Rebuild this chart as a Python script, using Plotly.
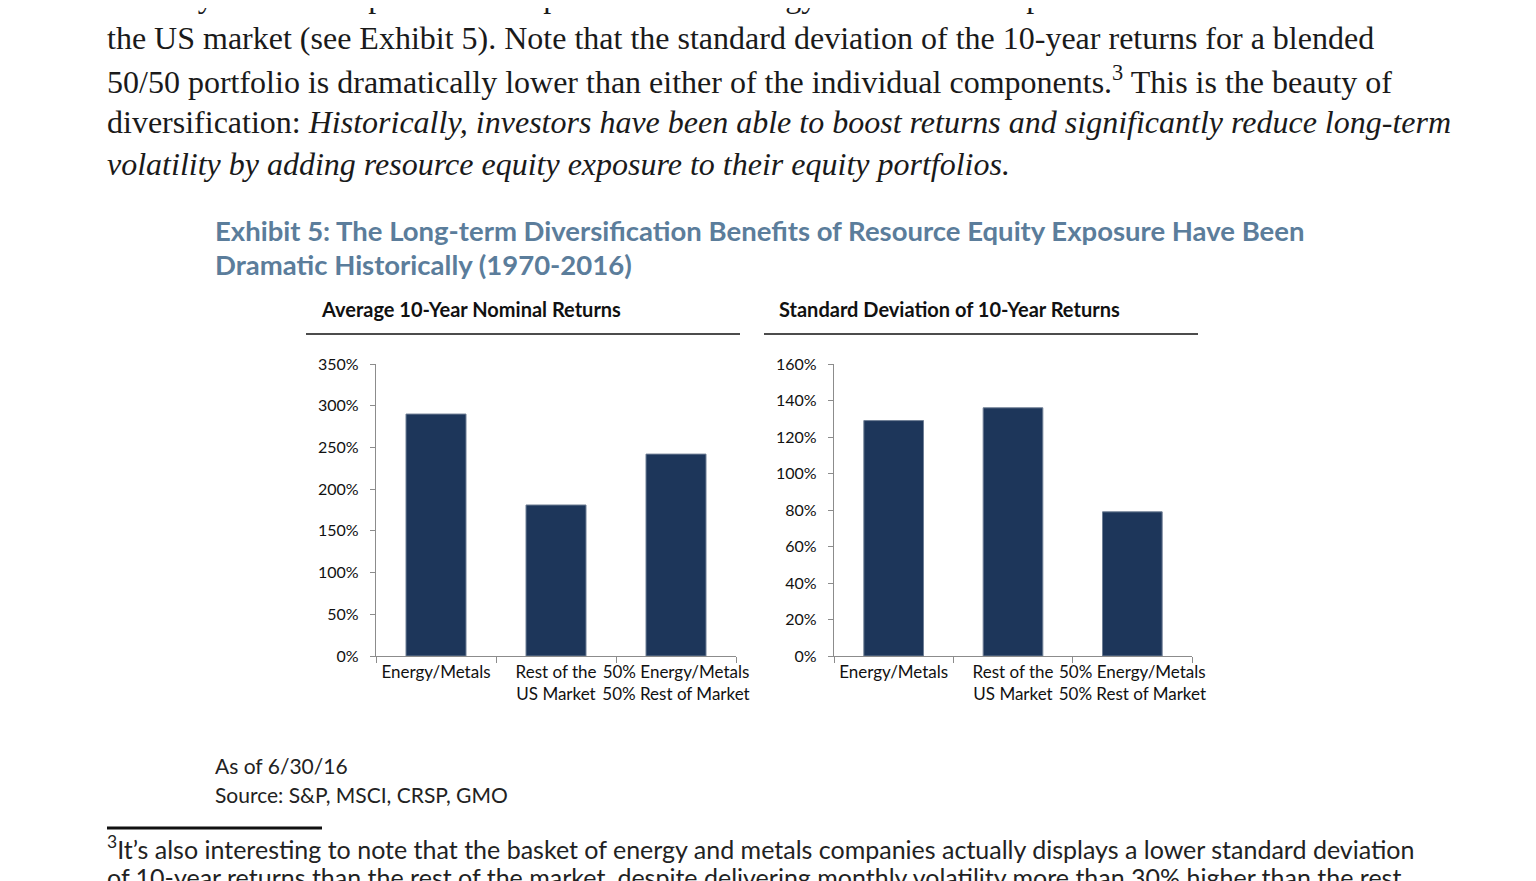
"""Exhibit 5 – resource equity diversification, page recreation"""
import plotly.graph_objects as go

# page body keeps its default 8px margin; figure runs to the window's right/bottom edge
OFF = 8
W, H = 1536 - OFF, 881 - OFF

categories = ['Energy/Metals', 'Rest of the<br>US Market', '50% Energy/Metals<br>50% Rest of Market']
avg_returns = [290, 181, 242]
std_dev = [129, 136, 79]

body_lines = [
    'monthly rebalanced portfolio comprised of 50% energy and metals companies and 50% the rest of',
    'the US market (see Exhibit 5). Note that the standard deviation of the 10-year returns for a blended',
    '50/50 portfolio is dramatically lower than either of the individual components.<sup>3</sup> This is the beauty of',
    'diversification: <i>Historically, investors have been able to boost returns and significantly reduce long-term</i>',
    '<i>volatility by adding resource equity exposure to their equity portfolios.</i>',
]
title_lines = [
    'Exhibit 5: The Long-term Diversification Benefits of Resource Equity Exposure Have Been',
    'Dramatic Historically (1970-2016)',
]
footnote_lines = [
    '<sup>3</sup>It\u2019s also interesting to note that the basket of energy and metals companies actually displays a lower standard deviation',
    'of 10-year returns than the rest of the market, despite delivering monthly volatility more than 30% higher than the rest',
]

BAR = '#1D365A'
AXIS = '#8c8c8c'
SANS = 'Lato, Open Sans, sans-serif'
SERIF = 'Liberation Serif, DejaVu Serif, serif'


def px_x(x):
    return (x - OFF) / W


def px_y(y):
    return 1 - (y - OFF) / H


fig = go.Figure()
fig.add_trace(go.Bar(x=categories, y=avg_returns, width=0.5, marker_color=BAR,
                     marker_line=dict(color='#6f7f95', width=1), xaxis='x', yaxis='y'))
fig.add_trace(go.Bar(x=categories, y=std_dev, width=0.5, marker_color=BAR,
                     marker_line=dict(color='#6f7f95', width=1), xaxis='x2', yaxis='y2'))

xcommon = dict(type='category', showline=True, linecolor=AXIS, linewidth=1.3,
               ticks='outside', tickson='boundaries', ticklen=6, tickcolor=AXIS,
               showgrid=False, tickangle=0, automargin=False,
               tickfont=dict(family=SANS, size=17, color='#111'),
               fixedrange=True)
ycommon = dict(showline=True, linecolor=AXIS, linewidth=1.3, ticks='outside',
               ticklen=5, tickcolor=AXIS, showgrid=False, zeroline=False,
               ticksuffix='%', tickfont=dict(family=SANS, size=16, color='#111'),
               ticklabelstandoff=8, automargin=False,
               domain=[px_y(656), px_y(364)])

fig.update_layout(
    width=W, height=H,
    margin=dict(t=0, b=0, l=0, r=0, pad=0),
    paper_bgcolor='white', plot_bgcolor='white',
    showlegend=False,
    xaxis=dict(xcommon, domain=[px_x(376), px_x(736)], anchor='y'),
    yaxis=dict(ycommon, range=[0, 350], dtick=50, anchor='x'),
    xaxis2=dict(xcommon, domain=[px_x(834), px_x(1192)], anchor='y2'),
    yaxis2=dict(ycommon, range=[0, 160], dtick=20, anchor='x2'),
)

# body text above the exhibit
for i, line in enumerate(body_lines):
    fig.add_annotation(text=line, xref='paper', yref='paper', x=px_x(105), y=px_y(-4 + 42 * i),
                       xanchor='left', yanchor='middle', showarrow=False,
                       font=dict(family=SERIF, size=32, color='#1a1a1a'))

for i, line in enumerate(title_lines):
    fig.add_annotation(text=f'<b>{line}</b>', xref='paper', yref='paper', x=px_x(213), y=px_y(231 + 33 * i),
                       xanchor='left', yanchor='middle', showarrow=False,
                       font=dict(family=SANS, size=27.5, color='#5b7d9b'))

# panel titles with rules underneath
for x0, x1, tx, label in [(306, 740, 319, 'Average 10-Year Nominal Returns'),
                          (764, 1198, 777, 'Standard Deviation of 10-Year Returns')]:
    fig.add_annotation(text=f'<b>{label}</b>', xref='paper', yref='paper', x=px_x(tx), y=px_y(309),
                       xanchor='left', yanchor='middle', showarrow=False,
                       font=dict(family=SANS, size=20, color='#111'))
    fig.add_shape(type='line', xref='paper', yref='paper', x0=px_x(x0), x1=px_x(x1),
                  y0=px_y(334), y1=px_y(334), line=dict(color='#111', width=1.5))

for i, line in enumerate(['As of 6/30/16', 'Source: S&P, MSCI, CRSP, GMO']):
    fig.add_annotation(text=line, xref='paper', yref='paper', x=px_x(213), y=px_y(765 + 29 * i),
                       xanchor='left', yanchor='middle', showarrow=False,
                       font=dict(family=SANS, size=21, color='#222'))

fig.add_shape(type='line', xref='paper', yref='paper', x0=px_x(107), x1=px_x(322),
              y0=px_y(828), y1=px_y(828), line=dict(color='#111', width=3))
for i, line in enumerate(footnote_lines):
    fig.add_annotation(text=line, xref='paper', yref='paper', x=px_x(105), y=px_y(847 + 30 * i),
                       xanchor='left', yanchor='middle', showarrow=False,
                       font=dict(family=SANS, size=25, color='#222'))

fig.write_html('out.html')
